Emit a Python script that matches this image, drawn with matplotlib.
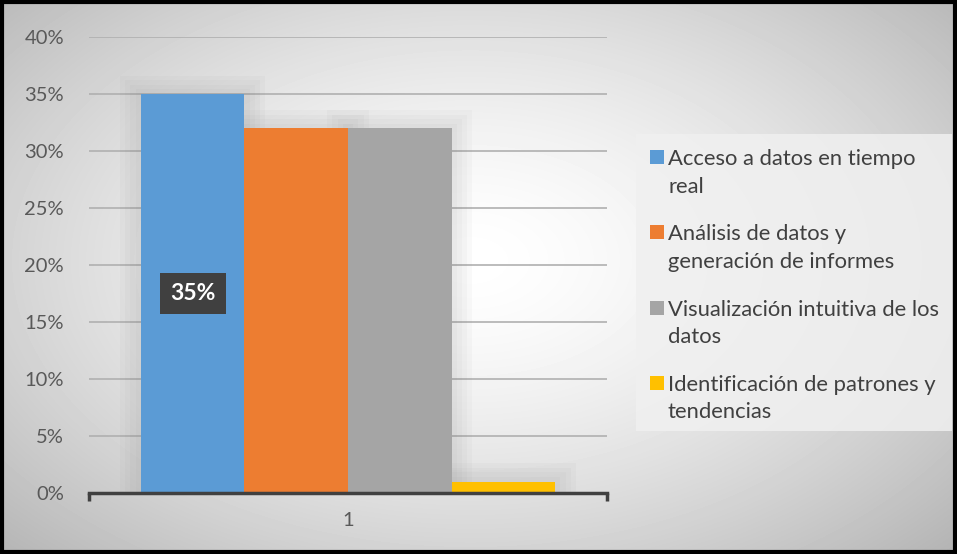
import numpy as np
import matplotlib
matplotlib.use("Agg")
from matplotlib import pyplot as plt
from matplotlib.patches import Rectangle

# data
series = ["Acceso a datos en tiempo\nreal",
          "Análisis de datos y\ngeneración de informes",
          "Visualización intuitiva de los\ndatos",
          "Identificación de patrones y\ntendencias"]
values = [0.35, 0.32, 0.32, 0.01]
colors = ["#5b9bd5", "#ed7d31", "#a5a5a5", "#ffc000"]
category = "1"
yticks = [0.0, 0.05, 0.10, 0.15, 0.20, 0.25, 0.30, 0.35, 0.40]

plt.rcParams['font.family'] = ['Lato', 'DejaVu Sans']

W, H = 957, 554
fig = plt.figure(figsize=(W / 100, H / 100), dpi=100)

# radial grey background
bg = fig.add_axes([0, 0, 1, 1], zorder=-10)
yy, xx = np.mgrid[0:H, 0:W]
r = np.hypot((xx - 470) / 480.0, (yy - 260) / 300.0)
shade = 1.0 - 0.18 * np.clip(r, 0, 1.6) ** 1.5
bg.imshow(shade, cmap="gray", vmin=0, vmax=1, extent=[0, 1, 0, 1],
          aspect="auto", interpolation="bilinear")
bg.set_xlim(0, 1)
bg.set_ylim(0, 1)
bg.axis("off")
bg.add_patch(Rectangle((0.002, 0.003), 0.996, 0.994, fill=False,
                       edgecolor="black", linewidth=3, transform=bg.transAxes))

left, right = 89 / W, 607 / W
bottom, top = 1 - 493 / H, 1 - 37 / H
ax = fig.add_axes([left, bottom, right - left, top - bottom])
ax.patch.set_alpha(0)

n = len(values)
width = 0.2
pos = (np.arange(n) - (n - 1) / 2) * width

# soft glow behind bars
for k in range(1, 5):
    for p, v in zip(pos, values):
        ax.bar(p, v + 0.004 * k, width=width + 0.02 * k, color="#808080",
               alpha=0.045, zorder=1, linewidth=0)

for p, v, c, s in zip(pos, values, colors, series):
    ax.bar(p, v, width=width, color=c, zorder=3, linewidth=0, label=s)

ax.set_xlim(-0.5, 0.5)
ax.set_ylim(0, 0.40)
ax.set_yticks(yticks)
ax.set_yticklabels([f"{t*100:.0f}%" for t in yticks])
ax.set_xticks([0])
ax.set_xticklabels([category])
ax.set_xticks([-0.5, 0.5], minor=True)
ax.tick_params(axis="y", length=0, pad=18, labelsize=14.5, labelcolor="#595959")
ax.tick_params(axis="x", which="major", length=0, pad=14, labelsize=14.5,
               labelcolor="#595959")
ax.tick_params(axis="x", which="minor", length=6, width=2.5, color="#404040")
ax.yaxis.grid(True, color="#b0b0b0", linewidth=1.2, zorder=0)
ax.set_axisbelow(True)
for side in ["top", "right", "left"]:
    ax.spines[side].set_visible(False)
ax.spines["bottom"].set_color("#404040")
ax.spines["bottom"].set_linewidth(2.5)
ax.spines["bottom"].set_zorder(5)

# data label on first bar
lbl = f"{values[0]*100:.0f}%"
ax.text(pos[0], values[0] / 2, lbl, ha="center", va="center", color="white",
        fontsize=16.5, fontweight="bold", zorder=6,
        bbox=dict(boxstyle="square,pad=0.45", facecolor="#404040",
                  edgecolor="none"))

# legend
fig.patches.append(Rectangle((636 / W, 1 - 431 / H), 316 / W, 297 / H,
                             transform=fig.transFigure, facecolor="#f0f0f0",
                             edgecolor="none", alpha=0.85, zorder=1))
for i, (s, c) in enumerate(zip(series, colors)):
    base = 165 + i * 75.3
    fig.patches.append(Rectangle((650 / W, 1 - (base - 1) / H), 14 / W, 14 / H,
                                 transform=fig.transFigure, facecolor=c,
                                 edgecolor="none", zorder=2))
    for j, line in enumerate(s.split("\n")):
        fig.text(668 / W, 1 - (base + j * 27.5) / H, line, ha="left",
                 va="baseline", fontsize=15.8, color="#404040", zorder=3)

fig.savefig("out.png", dpi=100)
